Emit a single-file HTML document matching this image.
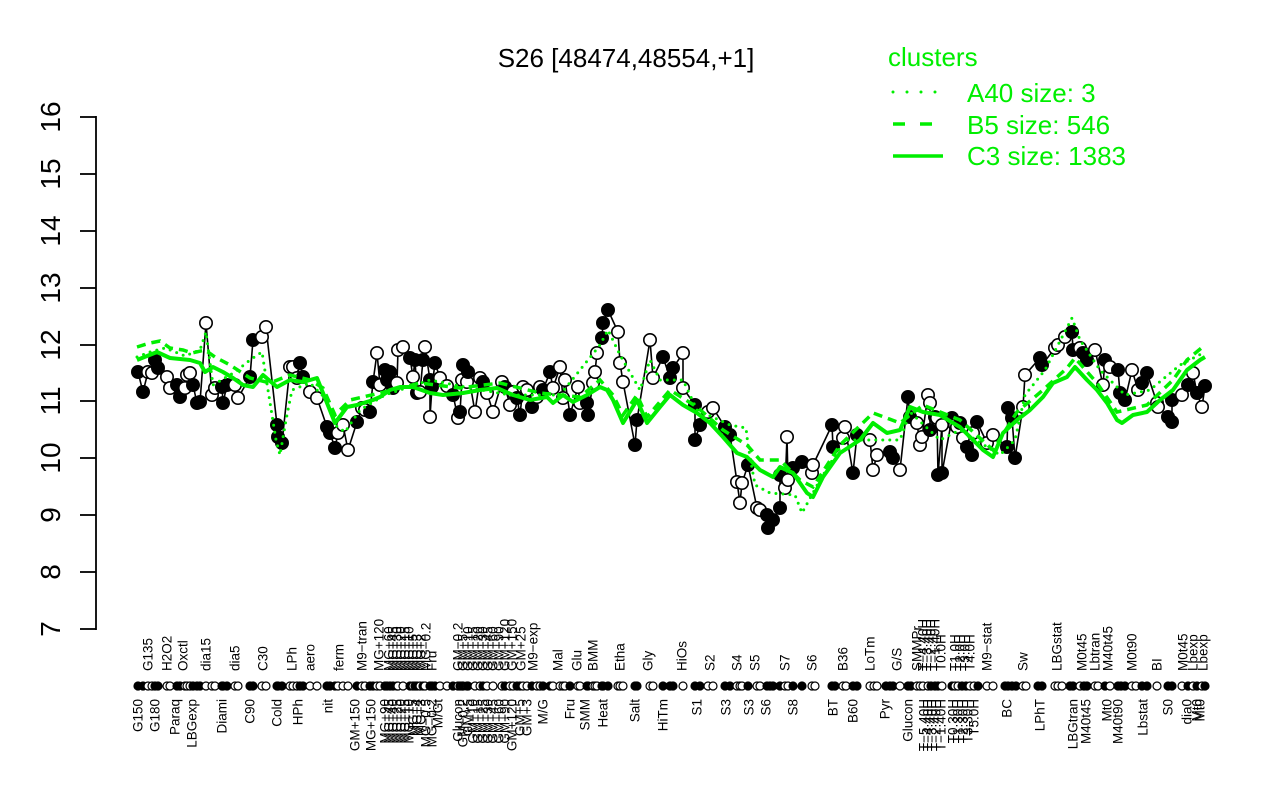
<!DOCTYPE html>
<html><head><meta charset="utf-8"><style>
html,body{margin:0;padding:0;background:#fff;}
svg{display:block;}
text{font-family:"Liberation Sans",Arial,sans-serif;}
.ax{font-size:13.5px;fill:#000;}
</style></head><body>
<svg width="1280" height="800" viewBox="0 0 1280 800" xmlns="http://www.w3.org/2000/svg">
<rect width="1280" height="800" fill="#fff"/>
<!-- title -->
<text x="626" y="67" font-size="26" text-anchor="middle" fill="#000">S26 [48474,48554,+1]</text>
<!-- legend -->
<g fill="#00ee00">
<text x="888" y="66" font-size="26">clusters</text>
<text x="967" y="102" font-size="26">A40 size: 3</text>
<text x="967" y="134" font-size="26">B5 size: 546</text>
<text x="967" y="165" font-size="26">C3 size: 1383</text>
</g>
<line x1="893" y1="92" x2="938" y2="92" stroke="#00ee00" stroke-width="3" stroke-linecap="round" stroke-dasharray="0,14"/>
<line x1="893" y1="124" x2="933" y2="124" stroke="#00ee00" stroke-width="3.5" stroke-dasharray="12,15"/>
<line x1="893" y1="156" x2="943" y2="156" stroke="#00ee00" stroke-width="3.5"/>
<!-- y axis -->
<g stroke="#000" stroke-width="1.8">
<line x1="96" y1="116" x2="96" y2="630"/>
<line x1="80" y1="117" x2="96" y2="117"/>
<line x1="80" y1="174" x2="96" y2="174"/>
<line x1="80" y1="231" x2="96" y2="231"/>
<line x1="80" y1="288" x2="96" y2="288"/>
<line x1="80" y1="345" x2="96" y2="345"/>
<line x1="80" y1="401" x2="96" y2="401"/>
<line x1="80" y1="458" x2="96" y2="458"/>
<line x1="80" y1="515" x2="96" y2="515"/>
<line x1="80" y1="572" x2="96" y2="572"/>
<line x1="80" y1="629" x2="96" y2="629"/>
</g>
<g font-size="28" text-anchor="middle" fill="#000">
<text transform="translate(60,117) rotate(-90)">16</text>
<text transform="translate(60,174) rotate(-90)">15</text>
<text transform="translate(60,231) rotate(-90)">14</text>
<text transform="translate(60,288) rotate(-90)">13</text>
<text transform="translate(60,345) rotate(-90)">12</text>
<text transform="translate(60,401) rotate(-90)">11</text>
<text transform="translate(60,458) rotate(-90)">10</text>
<text transform="translate(60,515) rotate(-90)">9</text>
<text transform="translate(60,572) rotate(-90)">8</text>
<text transform="translate(60,629) rotate(-90)">7</text>
</g>

<!-- black data line -->
<polyline fill="none" stroke="#000" stroke-width="1.6" points="138,372 143,392 148,372 152,373 155,360 158,368 167,377 170,388 177,385 180,397 185,388 187,375 190,373 193,385 197,403 200,402 206,323 212,395 215,388 222,387 223,403 227,385 235,385 238,398 250,377 253,340 262,337 266,327 277,425 278,437 282,443 290,367 293,367 297,378 300,363 303,377 310,392 317,398 327,427 330,433 335,448 338,433 343,425 348,450 357,422 362,408 365,410 370,412 373,382 377,353 380,385 385,370 387,380 390,372 393,388 397,383 398,350 403,347 410,358 413,377 415,360 417,393 420,392 423,360 425,347 430,380 430,417 432,387 435,363 440,378 447,386 453,395 458,418 460,412 462,380 463,365 467,382 468,372 475,412 480,378 483,382 487,393 493,412 502,382 505,387 510,405 513,392 517,398 520,415 523,387 527,390 532,407 537,397 540,387 543,390 550,372 553,388 560,367 563,398 565,380 570,415 578,387 580,403 587,403 588,415 593,383 595,372 597,353 602,338 603,323 608,310 618,332 620,363 623,382 635,445 637,420 650,340 653,378 663,357 670,378 673,368 683,353 683,388 695,405 695,440 700,425 708,412 713,408 725,427 730,435 737,482 740,503 742,483 748,465 757,508 760,510 767,515 768,528 773,520 780,508 780,475 785,488 787,437 788,480 793,468 802,462 812,473 813,465 832,425 833,447 843,438 845,427 853,473 857,435 870,440 873,470 877,455 890,452 893,458 900,470 908,397 910,417 917,423 920,445 922,437 928,395 930,403 930,430 935,417 937,418 938,475 942,425 942,473 952,418 955,425 957,427 960,423 963,438 967,447 972,455 973,433 977,422 987,443 993,435 1007,447 1008,408 1012,418 1015,458 1023,407 1025,375 1040,358 1042,365 1055,348 1058,345 1065,337 1072,332 1073,350 1080,348 1083,353 1087,360 1095,350 1103,385 1105,360 1110,367 1118,370 1120,393 1125,400 1132,370 1138,390 1142,383 1147,373 1157,403 1158,407 1168,417 1172,422 1172,400 1182,395 1188,385 1193,373 1197,393 1202,407 1205,386"/>

<!-- data points -->
<g stroke="#000" stroke-width="1.6">
<circle cx="138" cy="372" r="6.2" fill="#000"/><circle cx="143" cy="392" r="6.2" fill="#000"/><circle cx="148" cy="372" r="6.2" fill="#fff"/><circle cx="152" cy="373" r="6.2" fill="#fff"/><circle cx="155" cy="360" r="6.2" fill="#000"/><circle cx="158" cy="368" r="6.2" fill="#000"/><circle cx="167" cy="377" r="6.2" fill="#fff"/><circle cx="170" cy="388" r="6.2" fill="#fff"/><circle cx="177" cy="385" r="6.2" fill="#000"/><circle cx="180" cy="397" r="6.2" fill="#000"/><circle cx="185" cy="388" r="6.2" fill="#fff"/><circle cx="187" cy="375" r="6.2" fill="#fff"/><circle cx="190" cy="373" r="6.2" fill="#fff"/><circle cx="193" cy="385" r="6.2" fill="#000"/><circle cx="197" cy="403" r="6.2" fill="#000"/><circle cx="200" cy="402" r="6.2" fill="#000"/><circle cx="206" cy="323" r="6.2" fill="#fff"/><circle cx="212" cy="395" r="6.2" fill="#fff"/><circle cx="215" cy="388" r="6.2" fill="#fff"/><circle cx="222" cy="387" r="6.2" fill="#000"/><circle cx="223" cy="403" r="6.2" fill="#000"/><circle cx="227" cy="385" r="6.2" fill="#000"/><circle cx="235" cy="385" r="6.2" fill="#fff"/><circle cx="238" cy="398" r="6.2" fill="#fff"/><circle cx="250" cy="377" r="6.2" fill="#000"/><circle cx="253" cy="340" r="6.2" fill="#000"/><circle cx="262" cy="337" r="6.2" fill="#fff"/><circle cx="266" cy="327" r="6.2" fill="#fff"/><circle cx="277" cy="425" r="6.2" fill="#000"/><circle cx="278" cy="437" r="6.2" fill="#000"/><circle cx="282" cy="443" r="6.2" fill="#000"/><circle cx="290" cy="367" r="6.2" fill="#fff"/><circle cx="293" cy="367" r="6.2" fill="#fff"/><circle cx="297" cy="378" r="6.2" fill="#fff"/><circle cx="300" cy="363" r="6.2" fill="#000"/><circle cx="303" cy="377" r="6.2" fill="#000"/><circle cx="310" cy="392" r="6.2" fill="#fff"/><circle cx="317" cy="398" r="6.2" fill="#fff"/><circle cx="327" cy="427" r="6.2" fill="#000"/><circle cx="330" cy="433" r="6.2" fill="#000"/><circle cx="335" cy="448" r="6.2" fill="#000"/><circle cx="338" cy="433" r="6.2" fill="#fff"/><circle cx="343" cy="425" r="6.2" fill="#fff"/><circle cx="348" cy="450" r="6.2" fill="#fff"/><circle cx="357" cy="422" r="6.2" fill="#000"/><circle cx="362" cy="408" r="6.2" fill="#fff"/><circle cx="365" cy="410" r="6.2" fill="#fff"/><circle cx="370" cy="412" r="6.2" fill="#000"/><circle cx="373" cy="382" r="6.2" fill="#000"/><circle cx="377" cy="353" r="6.2" fill="#fff"/><circle cx="380" cy="385" r="6.2" fill="#fff"/><circle cx="385" cy="370" r="6.2" fill="#000"/><circle cx="387" cy="380" r="6.2" fill="#000"/><circle cx="390" cy="372" r="6.2" fill="#000"/><circle cx="393" cy="388" r="6.2" fill="#000"/><circle cx="397" cy="383" r="6.2" fill="#fff"/><circle cx="398" cy="350" r="6.2" fill="#fff"/><circle cx="403" cy="347" r="6.2" fill="#fff"/><circle cx="410" cy="358" r="6.2" fill="#000"/><circle cx="413" cy="377" r="6.2" fill="#fff"/><circle cx="415" cy="360" r="6.2" fill="#000"/><circle cx="417" cy="393" r="6.2" fill="#000"/><circle cx="420" cy="392" r="6.2" fill="#fff"/><circle cx="423" cy="360" r="6.2" fill="#000"/><circle cx="425" cy="347" r="6.2" fill="#fff"/><circle cx="430" cy="380" r="6.2" fill="#000"/><circle cx="430" cy="417" r="6.2" fill="#fff"/><circle cx="432" cy="387" r="6.2" fill="#000"/><circle cx="435" cy="363" r="6.2" fill="#000"/><circle cx="440" cy="378" r="6.2" fill="#fff"/><circle cx="447" cy="386" r="6.2" fill="#fff"/><circle cx="453" cy="395" r="6.2" fill="#000"/><circle cx="458" cy="418" r="6.2" fill="#fff"/><circle cx="460" cy="412" r="6.2" fill="#000"/><circle cx="462" cy="380" r="6.2" fill="#fff"/><circle cx="463" cy="365" r="6.2" fill="#000"/><circle cx="467" cy="382" r="6.2" fill="#fff"/><circle cx="468" cy="372" r="6.2" fill="#000"/><circle cx="475" cy="412" r="6.2" fill="#fff"/><circle cx="480" cy="378" r="6.2" fill="#fff"/><circle cx="483" cy="382" r="6.2" fill="#000"/><circle cx="487" cy="393" r="6.2" fill="#fff"/><circle cx="493" cy="412" r="6.2" fill="#fff"/><circle cx="502" cy="382" r="6.2" fill="#fff"/><circle cx="505" cy="387" r="6.2" fill="#000"/><circle cx="510" cy="405" r="6.2" fill="#fff"/><circle cx="513" cy="392" r="6.2" fill="#fff"/><circle cx="517" cy="398" r="6.2" fill="#000"/><circle cx="520" cy="415" r="6.2" fill="#000"/><circle cx="523" cy="387" r="6.2" fill="#fff"/><circle cx="527" cy="390" r="6.2" fill="#fff"/><circle cx="532" cy="407" r="6.2" fill="#000"/><circle cx="537" cy="397" r="6.2" fill="#fff"/><circle cx="540" cy="387" r="6.2" fill="#fff"/><circle cx="543" cy="390" r="6.2" fill="#000"/><circle cx="550" cy="372" r="6.2" fill="#000"/><circle cx="553" cy="388" r="6.2" fill="#fff"/><circle cx="560" cy="367" r="6.2" fill="#fff"/><circle cx="563" cy="398" r="6.2" fill="#fff"/><circle cx="565" cy="380" r="6.2" fill="#fff"/><circle cx="570" cy="415" r="6.2" fill="#000"/><circle cx="578" cy="387" r="6.2" fill="#fff"/><circle cx="580" cy="403" r="6.2" fill="#fff"/><circle cx="587" cy="403" r="6.2" fill="#000"/><circle cx="588" cy="415" r="6.2" fill="#000"/><circle cx="593" cy="383" r="6.2" fill="#fff"/><circle cx="595" cy="372" r="6.2" fill="#fff"/><circle cx="597" cy="353" r="6.2" fill="#fff"/><circle cx="602" cy="338" r="6.2" fill="#000"/><circle cx="603" cy="323" r="6.2" fill="#000"/><circle cx="608" cy="310" r="6.2" fill="#000"/><circle cx="618" cy="332" r="6.2" fill="#fff"/><circle cx="620" cy="363" r="6.2" fill="#fff"/><circle cx="623" cy="382" r="6.2" fill="#fff"/><circle cx="635" cy="445" r="6.2" fill="#000"/><circle cx="637" cy="420" r="6.2" fill="#000"/><circle cx="650" cy="340" r="6.2" fill="#fff"/><circle cx="653" cy="378" r="6.2" fill="#fff"/><circle cx="663" cy="357" r="6.2" fill="#000"/><circle cx="670" cy="378" r="6.2" fill="#000"/><circle cx="673" cy="368" r="6.2" fill="#000"/><circle cx="683" cy="353" r="6.2" fill="#fff"/><circle cx="683" cy="388" r="6.2" fill="#fff"/><circle cx="695" cy="405" r="6.2" fill="#000"/><circle cx="695" cy="440" r="6.2" fill="#000"/><circle cx="700" cy="425" r="6.2" fill="#000"/><circle cx="708" cy="412" r="6.2" fill="#fff"/><circle cx="713" cy="408" r="6.2" fill="#fff"/><circle cx="725" cy="427" r="6.2" fill="#000"/><circle cx="730" cy="435" r="6.2" fill="#000"/><circle cx="737" cy="482" r="6.2" fill="#fff"/><circle cx="740" cy="503" r="6.2" fill="#fff"/><circle cx="742" cy="483" r="6.2" fill="#fff"/><circle cx="748" cy="465" r="6.2" fill="#000"/><circle cx="757" cy="508" r="6.2" fill="#fff"/><circle cx="760" cy="510" r="6.2" fill="#fff"/><circle cx="767" cy="515" r="6.2" fill="#000"/><circle cx="768" cy="528" r="6.2" fill="#000"/><circle cx="773" cy="520" r="6.2" fill="#000"/><circle cx="780" cy="508" r="6.2" fill="#000"/><circle cx="780" cy="475" r="6.2" fill="#000"/><circle cx="785" cy="488" r="6.2" fill="#fff"/><circle cx="787" cy="437" r="6.2" fill="#fff"/><circle cx="788" cy="480" r="6.2" fill="#fff"/><circle cx="793" cy="468" r="6.2" fill="#000"/><circle cx="802" cy="462" r="6.2" fill="#000"/><circle cx="812" cy="473" r="6.2" fill="#fff"/><circle cx="813" cy="465" r="6.2" fill="#fff"/><circle cx="832" cy="425" r="6.2" fill="#000"/><circle cx="833" cy="447" r="6.2" fill="#000"/><circle cx="843" cy="438" r="6.2" fill="#fff"/><circle cx="845" cy="427" r="6.2" fill="#fff"/><circle cx="853" cy="473" r="6.2" fill="#000"/><circle cx="857" cy="435" r="6.2" fill="#000"/><circle cx="870" cy="440" r="6.2" fill="#fff"/><circle cx="873" cy="470" r="6.2" fill="#fff"/><circle cx="877" cy="455" r="6.2" fill="#fff"/><circle cx="890" cy="452" r="6.2" fill="#000"/><circle cx="893" cy="458" r="6.2" fill="#000"/><circle cx="900" cy="470" r="6.2" fill="#fff"/><circle cx="908" cy="397" r="6.2" fill="#000"/><circle cx="910" cy="417" r="6.2" fill="#000"/><circle cx="917" cy="423" r="6.2" fill="#fff"/><circle cx="920" cy="445" r="6.2" fill="#fff"/><circle cx="922" cy="437" r="6.2" fill="#fff"/><circle cx="928" cy="395" r="6.2" fill="#fff"/><circle cx="930" cy="403" r="6.2" fill="#fff"/><circle cx="930" cy="430" r="6.2" fill="#000"/><circle cx="935" cy="417" r="6.2" fill="#000"/><circle cx="937" cy="418" r="6.2" fill="#fff"/><circle cx="938" cy="475" r="6.2" fill="#000"/><circle cx="942" cy="425" r="6.2" fill="#fff"/><circle cx="942" cy="473" r="6.2" fill="#000"/><circle cx="952" cy="418" r="6.2" fill="#000"/><circle cx="955" cy="425" r="6.2" fill="#fff"/><circle cx="957" cy="427" r="6.2" fill="#fff"/><circle cx="960" cy="423" r="6.2" fill="#000"/><circle cx="963" cy="438" r="6.2" fill="#fff"/><circle cx="967" cy="447" r="6.2" fill="#000"/><circle cx="972" cy="455" r="6.2" fill="#000"/><circle cx="973" cy="433" r="6.2" fill="#fff"/><circle cx="977" cy="422" r="6.2" fill="#000"/><circle cx="987" cy="443" r="6.2" fill="#fff"/><circle cx="993" cy="435" r="6.2" fill="#fff"/><circle cx="1007" cy="447" r="6.2" fill="#000"/><circle cx="1008" cy="408" r="6.2" fill="#000"/><circle cx="1012" cy="418" r="6.2" fill="#000"/><circle cx="1015" cy="458" r="6.2" fill="#000"/><circle cx="1023" cy="407" r="6.2" fill="#fff"/><circle cx="1025" cy="375" r="6.2" fill="#fff"/><circle cx="1040" cy="358" r="6.2" fill="#000"/><circle cx="1042" cy="365" r="6.2" fill="#000"/><circle cx="1055" cy="348" r="6.2" fill="#fff"/><circle cx="1058" cy="345" r="6.2" fill="#fff"/><circle cx="1065" cy="337" r="6.2" fill="#fff"/><circle cx="1072" cy="332" r="6.2" fill="#000"/><circle cx="1073" cy="350" r="6.2" fill="#000"/><circle cx="1080" cy="348" r="6.2" fill="#fff"/><circle cx="1083" cy="353" r="6.2" fill="#000"/><circle cx="1087" cy="360" r="6.2" fill="#000"/><circle cx="1095" cy="350" r="6.2" fill="#fff"/><circle cx="1103" cy="385" r="6.2" fill="#fff"/><circle cx="1105" cy="360" r="6.2" fill="#000"/><circle cx="1110" cy="367" r="6.2" fill="#fff"/><circle cx="1118" cy="370" r="6.2" fill="#000"/><circle cx="1120" cy="393" r="6.2" fill="#000"/><circle cx="1125" cy="400" r="6.2" fill="#000"/><circle cx="1132" cy="370" r="6.2" fill="#fff"/><circle cx="1138" cy="390" r="6.2" fill="#fff"/><circle cx="1142" cy="383" r="6.2" fill="#000"/><circle cx="1147" cy="373" r="6.2" fill="#000"/><circle cx="1157" cy="403" r="6.2" fill="#fff"/><circle cx="1158" cy="407" r="6.2" fill="#fff"/><circle cx="1168" cy="417" r="6.2" fill="#000"/><circle cx="1172" cy="422" r="6.2" fill="#000"/><circle cx="1172" cy="400" r="6.2" fill="#000"/><circle cx="1182" cy="395" r="6.2" fill="#fff"/><circle cx="1188" cy="385" r="6.2" fill="#000"/><circle cx="1193" cy="373" r="6.2" fill="#fff"/><circle cx="1197" cy="393" r="6.2" fill="#000"/><circle cx="1202" cy="407" r="6.2" fill="#fff"/><circle cx="1205" cy="386" r="6.2" fill="#000"/>
</g>

<!-- green cluster lines -->
<polyline fill="none" stroke="#00ee00" stroke-width="3" stroke-linecap="round" stroke-dasharray="0,7" points="137,357 150,352 165,348 185,356 200,350 206,332 209,355 213,385 235,372 250,360 262,352 268,390 272,415 276,440 280,455 286,420 292,390 310,383 325,398 335,425 345,432 360,410 385,395 430,380 470,388 510,395 560,395 600,345 608,330 620,355 640,390 650,360 660,380 683,380 697,410 730,425 746,428 748,445 755,485 770,493 795,495 802,513 820,480 845,440 870,440 900,440 910,412 940,440 960,430 1000,455 1015,440 1025,395 1045,370 1072,318 1080,340 1100,370 1125,395 1150,390 1180,365 1205,352"/>
<polyline fill="none" stroke="#00ee00" stroke-width="3.5" stroke-dasharray="9,6" points="137,347 150,343 160,341 170,348 183,350 192,353 205,350 215,357 230,365 250,378 270,383 290,375 310,380 323,388 335,415 350,400 380,393 420,383 460,388 500,383 540,393 580,397 600,380 613,395 623,415 637,395 647,417 670,390 697,407 723,430 747,445 760,460 780,460 800,480 813,487 840,445 873,413 900,423 923,405 960,420 993,450 1017,412 1043,390 1067,368 1075,358 1097,383 1117,412 1147,405 1173,380 1187,360 1205,345"/>
<polyline fill="none" stroke="#00ee00" stroke-width="4" stroke-linejoin="round" points="137,360 157,352 170,358 190,360 200,363 205,372 213,367 223,372 233,378 243,385 253,387 263,375 277,387 290,380 303,382 317,378 323,393 335,423 347,407 357,405 373,400 380,397 390,390 400,387 413,387 430,393 443,395 463,393 480,390 497,388 513,395 530,400 547,397 553,403 563,395 573,402 587,395 600,387 607,390 613,400 623,423 637,400 647,423 660,407 670,395 683,405 697,413 710,423 723,437 737,453 747,457 760,470 773,477 780,467 793,473 807,493 813,497 823,477 840,453 860,440 873,423 887,433 900,430 910,407 923,412 940,415 953,423 960,427 973,440 983,450 993,457 1003,433 1017,420 1030,410 1043,397 1053,383 1067,377 1075,367 1087,380 1097,390 1107,403 1117,420 1122,423 1133,415 1147,412 1160,400 1173,390 1187,370 1200,360 1205,357"/>

<!-- axis marker row -->
<g stroke="#000" stroke-width="1.2">
<circle cx="138" cy="686" r="4" fill="#000"/><circle cx="143" cy="686" r="4" fill="#000"/><circle cx="148" cy="686" r="4" fill="#fff"/><circle cx="152" cy="686" r="4" fill="#fff"/><circle cx="155" cy="686" r="4" fill="#000"/><circle cx="158" cy="686" r="4" fill="#000"/><circle cx="167" cy="686" r="4" fill="#fff"/><circle cx="170" cy="686" r="4" fill="#fff"/><circle cx="177" cy="686" r="4" fill="#000"/><circle cx="180" cy="686" r="4" fill="#000"/><circle cx="185" cy="686" r="4" fill="#fff"/><circle cx="187" cy="686" r="4" fill="#fff"/><circle cx="190" cy="686" r="4" fill="#fff"/><circle cx="193" cy="686" r="4" fill="#000"/><circle cx="197" cy="686" r="4" fill="#000"/><circle cx="200" cy="686" r="4" fill="#000"/><circle cx="206" cy="686" r="4" fill="#fff"/><circle cx="212" cy="686" r="4" fill="#fff"/><circle cx="215" cy="686" r="4" fill="#fff"/><circle cx="222" cy="686" r="4" fill="#000"/><circle cx="223" cy="686" r="4" fill="#000"/><circle cx="227" cy="686" r="4" fill="#000"/><circle cx="235" cy="686" r="4" fill="#fff"/><circle cx="238" cy="686" r="4" fill="#fff"/><circle cx="250" cy="686" r="4" fill="#000"/><circle cx="253" cy="686" r="4" fill="#000"/><circle cx="262" cy="686" r="4" fill="#fff"/><circle cx="266" cy="686" r="4" fill="#fff"/><circle cx="277" cy="686" r="4" fill="#000"/><circle cx="278" cy="686" r="4" fill="#000"/><circle cx="282" cy="686" r="4" fill="#000"/><circle cx="290" cy="686" r="4" fill="#fff"/><circle cx="293" cy="686" r="4" fill="#fff"/><circle cx="297" cy="686" r="4" fill="#fff"/><circle cx="300" cy="686" r="4" fill="#000"/><circle cx="303" cy="686" r="4" fill="#000"/><circle cx="310" cy="686" r="4" fill="#fff"/><circle cx="317" cy="686" r="4" fill="#fff"/><circle cx="327" cy="686" r="4" fill="#000"/><circle cx="330" cy="686" r="4" fill="#000"/><circle cx="335" cy="686" r="4" fill="#000"/><circle cx="338" cy="686" r="4" fill="#fff"/><circle cx="343" cy="686" r="4" fill="#fff"/><circle cx="348" cy="686" r="4" fill="#fff"/><circle cx="357" cy="686" r="4" fill="#000"/><circle cx="362" cy="686" r="4" fill="#fff"/><circle cx="365" cy="686" r="4" fill="#fff"/><circle cx="370" cy="686" r="4" fill="#000"/><circle cx="373" cy="686" r="4" fill="#000"/><circle cx="377" cy="686" r="4" fill="#fff"/><circle cx="380" cy="686" r="4" fill="#fff"/><circle cx="385" cy="686" r="4" fill="#000"/><circle cx="387" cy="686" r="4" fill="#000"/><circle cx="390" cy="686" r="4" fill="#000"/><circle cx="393" cy="686" r="4" fill="#000"/><circle cx="397" cy="686" r="4" fill="#fff"/><circle cx="398" cy="686" r="4" fill="#fff"/><circle cx="403" cy="686" r="4" fill="#fff"/><circle cx="410" cy="686" r="4" fill="#000"/><circle cx="413" cy="686" r="4" fill="#fff"/><circle cx="415" cy="686" r="4" fill="#000"/><circle cx="417" cy="686" r="4" fill="#000"/><circle cx="420" cy="686" r="4" fill="#fff"/><circle cx="423" cy="686" r="4" fill="#000"/><circle cx="425" cy="686" r="4" fill="#fff"/><circle cx="430" cy="686" r="4" fill="#000"/><circle cx="432" cy="686" r="4" fill="#000"/><circle cx="435" cy="686" r="4" fill="#000"/><circle cx="440" cy="686" r="4" fill="#fff"/><circle cx="447" cy="686" r="4" fill="#fff"/><circle cx="453" cy="686" r="4" fill="#000"/><circle cx="458" cy="686" r="4" fill="#fff"/><circle cx="460" cy="686" r="4" fill="#000"/><circle cx="462" cy="686" r="4" fill="#fff"/><circle cx="463" cy="686" r="4" fill="#000"/><circle cx="467" cy="686" r="4" fill="#fff"/><circle cx="468" cy="686" r="4" fill="#000"/><circle cx="475" cy="686" r="4" fill="#fff"/><circle cx="480" cy="686" r="4" fill="#fff"/><circle cx="483" cy="686" r="4" fill="#000"/><circle cx="487" cy="686" r="4" fill="#fff"/><circle cx="493" cy="686" r="4" fill="#fff"/><circle cx="502" cy="686" r="4" fill="#fff"/><circle cx="505" cy="686" r="4" fill="#000"/><circle cx="510" cy="686" r="4" fill="#fff"/><circle cx="513" cy="686" r="4" fill="#fff"/><circle cx="517" cy="686" r="4" fill="#000"/><circle cx="520" cy="686" r="4" fill="#000"/><circle cx="523" cy="686" r="4" fill="#fff"/><circle cx="527" cy="686" r="4" fill="#fff"/><circle cx="532" cy="686" r="4" fill="#000"/><circle cx="537" cy="686" r="4" fill="#fff"/><circle cx="540" cy="686" r="4" fill="#fff"/><circle cx="543" cy="686" r="4" fill="#000"/><circle cx="550" cy="686" r="4" fill="#000"/><circle cx="553" cy="686" r="4" fill="#fff"/><circle cx="560" cy="686" r="4" fill="#fff"/><circle cx="563" cy="686" r="4" fill="#fff"/><circle cx="565" cy="686" r="4" fill="#fff"/><circle cx="570" cy="686" r="4" fill="#000"/><circle cx="578" cy="686" r="4" fill="#fff"/><circle cx="580" cy="686" r="4" fill="#fff"/><circle cx="587" cy="686" r="4" fill="#000"/><circle cx="588" cy="686" r="4" fill="#000"/><circle cx="593" cy="686" r="4" fill="#fff"/><circle cx="595" cy="686" r="4" fill="#fff"/><circle cx="597" cy="686" r="4" fill="#fff"/><circle cx="602" cy="686" r="4" fill="#000"/><circle cx="603" cy="686" r="4" fill="#000"/><circle cx="608" cy="686" r="4" fill="#000"/><circle cx="618" cy="686" r="4" fill="#fff"/><circle cx="620" cy="686" r="4" fill="#fff"/><circle cx="623" cy="686" r="4" fill="#fff"/><circle cx="635" cy="686" r="4" fill="#000"/><circle cx="637" cy="686" r="4" fill="#000"/><circle cx="650" cy="686" r="4" fill="#fff"/><circle cx="653" cy="686" r="4" fill="#fff"/><circle cx="663" cy="686" r="4" fill="#000"/><circle cx="670" cy="686" r="4" fill="#000"/><circle cx="673" cy="686" r="4" fill="#000"/><circle cx="683" cy="686" r="4" fill="#fff"/><circle cx="695" cy="686" r="4" fill="#000"/><circle cx="700" cy="686" r="4" fill="#000"/><circle cx="708" cy="686" r="4" fill="#fff"/><circle cx="713" cy="686" r="4" fill="#fff"/><circle cx="725" cy="686" r="4" fill="#000"/><circle cx="730" cy="686" r="4" fill="#000"/><circle cx="737" cy="686" r="4" fill="#fff"/><circle cx="740" cy="686" r="4" fill="#fff"/><circle cx="742" cy="686" r="4" fill="#fff"/><circle cx="748" cy="686" r="4" fill="#000"/><circle cx="757" cy="686" r="4" fill="#fff"/><circle cx="760" cy="686" r="4" fill="#fff"/><circle cx="767" cy="686" r="4" fill="#000"/><circle cx="770" cy="686" r="4" fill="#000"/><circle cx="773" cy="686" r="4" fill="#000"/><circle cx="780" cy="686" r="4" fill="#000"/><circle cx="785" cy="686" r="4" fill="#fff"/><circle cx="788" cy="686" r="4" fill="#fff"/><circle cx="793" cy="686" r="4" fill="#000"/><circle cx="802" cy="686" r="4" fill="#000"/><circle cx="812" cy="686" r="4" fill="#fff"/><circle cx="815" cy="686" r="4" fill="#fff"/><circle cx="832" cy="686" r="4" fill="#000"/><circle cx="835" cy="686" r="4" fill="#000"/><circle cx="843" cy="686" r="4" fill="#fff"/><circle cx="846" cy="686" r="4" fill="#fff"/><circle cx="853" cy="686" r="4" fill="#000"/><circle cx="857" cy="686" r="4" fill="#000"/><circle cx="870" cy="686" r="4" fill="#fff"/><circle cx="874" cy="686" r="4" fill="#fff"/><circle cx="877" cy="686" r="4" fill="#fff"/><circle cx="886" cy="686" r="4" fill="#000"/><circle cx="890" cy="686" r="4" fill="#000"/><circle cx="893" cy="686" r="4" fill="#000"/><circle cx="900" cy="686" r="4" fill="#fff"/><circle cx="908" cy="686" r="4" fill="#000"/><circle cx="911" cy="686" r="4" fill="#000"/><circle cx="917" cy="686" r="4" fill="#fff"/><circle cx="920" cy="686" r="4" fill="#fff"/><circle cx="923" cy="686" r="4" fill="#fff"/><circle cx="928" cy="686" r="4" fill="#fff"/><circle cx="931" cy="686" r="4" fill="#000"/><circle cx="935" cy="686" r="4" fill="#000"/><circle cx="938" cy="686" r="4" fill="#000"/><circle cx="942" cy="686" r="4" fill="#fff"/><circle cx="952" cy="686" r="4" fill="#000"/><circle cx="955" cy="686" r="4" fill="#fff"/><circle cx="958" cy="686" r="4" fill="#fff"/><circle cx="962" cy="686" r="4" fill="#000"/><circle cx="966" cy="686" r="4" fill="#000"/><circle cx="970" cy="686" r="4" fill="#fff"/><circle cx="974" cy="686" r="4" fill="#fff"/><circle cx="978" cy="686" r="4" fill="#000"/><circle cx="987" cy="686" r="4" fill="#fff"/><circle cx="993" cy="686" r="4" fill="#fff"/><circle cx="1005" cy="686" r="4" fill="#000"/><circle cx="1008" cy="686" r="4" fill="#000"/><circle cx="1012" cy="686" r="4" fill="#000"/><circle cx="1016" cy="686" r="4" fill="#000"/><circle cx="1023" cy="686" r="4" fill="#fff"/><circle cx="1026" cy="686" r="4" fill="#fff"/><circle cx="1038" cy="686" r="4" fill="#000"/><circle cx="1042" cy="686" r="4" fill="#000"/><circle cx="1055" cy="686" r="4" fill="#fff"/><circle cx="1058" cy="686" r="4" fill="#fff"/><circle cx="1062" cy="686" r="4" fill="#fff"/><circle cx="1070" cy="686" r="4" fill="#000"/><circle cx="1073" cy="686" r="4" fill="#000"/><circle cx="1080" cy="686" r="4" fill="#fff"/><circle cx="1084" cy="686" r="4" fill="#000"/><circle cx="1087" cy="686" r="4" fill="#000"/><circle cx="1095" cy="686" r="4" fill="#fff"/><circle cx="1098" cy="686" r="4" fill="#fff"/><circle cx="1105" cy="686" r="4" fill="#000"/><circle cx="1110" cy="686" r="4" fill="#fff"/><circle cx="1118" cy="686" r="4" fill="#000"/><circle cx="1121" cy="686" r="4" fill="#000"/><circle cx="1125" cy="686" r="4" fill="#000"/><circle cx="1132" cy="686" r="4" fill="#fff"/><circle cx="1136" cy="686" r="4" fill="#fff"/><circle cx="1142" cy="686" r="4" fill="#000"/><circle cx="1147" cy="686" r="4" fill="#000"/><circle cx="1157" cy="686" r="4" fill="#fff"/><circle cx="1168" cy="686" r="4" fill="#000"/><circle cx="1172" cy="686" r="4" fill="#000"/><circle cx="1182" cy="686" r="4" fill="#fff"/><circle cx="1188" cy="686" r="4" fill="#000"/><circle cx="1193" cy="686" r="4" fill="#fff"/><circle cx="1197" cy="686" r="4" fill="#000"/><circle cx="1202" cy="686" r="4" fill="#fff"/><circle cx="1205" cy="686" r="4" fill="#000"/>
</g>

<!-- top row labels -->
<g class="ax" text-anchor="start">
<text transform="translate(152.5,671) rotate(-90)">G135</text>
<text transform="translate(171.5,671) rotate(-90)">H2O2</text>
<text transform="translate(187.5,671) rotate(-90)">Oxctl</text>
<text transform="translate(210.5,671) rotate(-90)">dia15</text>
<text transform="translate(239.5,671) rotate(-90)">dia5</text>
<text transform="translate(267.5,671) rotate(-90)">C30</text>
<text transform="translate(296.5,671) rotate(-90)">LPh</text>
<text transform="translate(314.5,671) rotate(-90)">aero</text>
<text transform="translate(343.5,671) rotate(-90)">ferm</text>
<text transform="translate(366.5,671) rotate(-90)">M9−tran</text>
<text transform="translate(383.5,671) rotate(-90)">MG+120</text>
<text transform="translate(393.5,671) rotate(-90)">MG+60</text>
<text transform="translate(397.5,671) rotate(-90)">MG+45</text>
<text transform="translate(401.5,671) rotate(-90)">MG+30</text>
<text transform="translate(405.5,671) rotate(-90)">MG+20</text>
<text transform="translate(409.5,671) rotate(-90)">MG+15</text>
<text transform="translate(413.5,671) rotate(-90)">MG+10</text>
<text transform="translate(417.5,671) rotate(-90)">MG+5</text>
<text transform="translate(421.5,671) rotate(-90)">MG+3</text>
<text transform="translate(425.5,671) rotate(-90)">MG+2</text>
<text transform="translate(430.5,671) rotate(-90)">MG−0.2</text>
<text transform="translate(436.5,671) rotate(-90)">Fru</text>
<text transform="translate(462.5,671) rotate(-90)">GM−0.2</text>
<text transform="translate(467.5,671) rotate(-90)">GM+5</text>
<text transform="translate(472.5,671) rotate(-90)">GM+10</text>
<text transform="translate(477.5,671) rotate(-90)">GM+15</text>
<text transform="translate(482.5,671) rotate(-90)">GM+20</text>
<text transform="translate(487.5,671) rotate(-90)">GM+30</text>
<text transform="translate(492.5,671) rotate(-90)">GM+45</text>
<text transform="translate(497.5,671) rotate(-90)">GM+60</text>
<text transform="translate(503.5,671) rotate(-90)">GM+90</text>
<text transform="translate(509.5,671) rotate(-90)">GM+120</text>
<text transform="translate(516.5,671) rotate(-90)">GM+150</text>
<text transform="translate(525.5,671) rotate(-90)">GM+25</text>
<text transform="translate(537.5,671) rotate(-90)">M9−exp</text>
<text transform="translate(562.5,671) rotate(-90)">Mal</text>
<text transform="translate(581.5,671) rotate(-90)">Glu</text>
<text transform="translate(597.5,671) rotate(-90)">BMM</text>
<text transform="translate(624.5,671) rotate(-90)">Etha</text>
<text transform="translate(652.5,671) rotate(-90)">Gly</text>
<text transform="translate(686.5,671) rotate(-90)">HiOs</text>
<text transform="translate(714.5,671) rotate(-90)">S2</text>
<text transform="translate(741.5,671) rotate(-90)">S4</text>
<text transform="translate(759.5,671) rotate(-90)">S5</text>
<text transform="translate(789.5,671) rotate(-90)">S7</text>
<text transform="translate(816.5,671) rotate(-90)">S6</text>
<text transform="translate(847.5,671) rotate(-90)">B36</text>
<text transform="translate(874.5,671) rotate(-90)">LoTm</text>
<text transform="translate(901.5,671) rotate(-90)">G/S</text>
<text transform="translate(921.5,671) rotate(-90)">SMMPr</text>
<text transform="translate(927.5,671) rotate(-90)">T−4.40H</text>
<text transform="translate(931.5,671) rotate(-90)">T−3.40H</text>
<text transform="translate(935.5,671) rotate(-90)">T−2.40H</text>
<text transform="translate(939.5,671) rotate(-90)">T−1.40H</text>
<text transform="translate(945.5,671) rotate(-90)">T0.0H</text>
<text transform="translate(959.5,671) rotate(-90)">T1.0H</text>
<text transform="translate(964.5,671) rotate(-90)">T2.0H</text>
<text transform="translate(969.5,671) rotate(-90)">T3.0H</text>
<text transform="translate(974.5,671) rotate(-90)">T4.0H</text>
<text transform="translate(991.5,671) rotate(-90)">M9−stat</text>
<text transform="translate(1027.5,671) rotate(-90)">Sw</text>
<text transform="translate(1061.5,671) rotate(-90)">LBGstat</text>
<text transform="translate(1086.5,671) rotate(-90)">M0t45</text>
<text transform="translate(1099.5,671) rotate(-90)">Lbtran</text>
<text transform="translate(1112.5,671) rotate(-90)">M40t45</text>
<text transform="translate(1136.5,671) rotate(-90)">M0t90</text>
<text transform="translate(1161.5,671) rotate(-90)">BI</text>
<text transform="translate(1187.5,671) rotate(-90)">M0t45</text>
<text transform="translate(1197.5,671) rotate(-90)">Lbexp</text>
<text transform="translate(1207.5,671) rotate(-90)">Lbexp</text>
</g>

<!-- bottom row labels -->
<g class="ax" text-anchor="end">
<text transform="translate(142.5,699) rotate(-90)">G150</text>
<text transform="translate(159.5,699) rotate(-90)">G180</text>
<text transform="translate(179.5,699) rotate(-90)">Paraq</text>
<text transform="translate(196.5,699) rotate(-90)">LBGexp</text>
<text transform="translate(226.5,699) rotate(-90)">Diami</text>
<text transform="translate(254.5,699) rotate(-90)">C90</text>
<text transform="translate(281.5,699) rotate(-90)">Cold</text>
<text transform="translate(302.5,699) rotate(-90)">HPh</text>
<text transform="translate(332.5,699) rotate(-90)">nit</text>
<text transform="translate(359.5,699) rotate(-90)">GM+150</text>
<text transform="translate(375.5,699) rotate(-90)">MG+150</text>
<text transform="translate(389.5,699) rotate(-90)">MG+90</text>
<text transform="translate(393.5,699) rotate(-90)">MG+45</text>
<text transform="translate(397.5,699) rotate(-90)">MG+40</text>
<text transform="translate(401.5,699) rotate(-90)">MG+25</text>
<text transform="translate(405.5,699) rotate(-90)">MG+20</text>
<text transform="translate(409.5,699) rotate(-90)">MG+15</text>
<text transform="translate(413.5,699) rotate(-90)">MG+10</text>
<text transform="translate(417.5,699) rotate(-90)">MG+5</text>
<text transform="translate(421.5,699) rotate(-90)">MG+4</text>
<text transform="translate(425.5,699) rotate(-90)">MG+3</text>
<text transform="translate(430.5,699) rotate(-90)">MG−0.5</text>
<text transform="translate(436.5,699) rotate(-90)">MG−0.2</text>
<text transform="translate(442.5,699) rotate(-90)">M/Gt</text>
<text transform="translate(462.5,699) rotate(-90)">Glucon</text>
<text transform="translate(467.5,699) rotate(-90)">GM−0.2</text>
<text transform="translate(472.5,699) rotate(-90)">GM+5</text>
<text transform="translate(477.5,699) rotate(-90)">GM+10</text>
<text transform="translate(482.5,699) rotate(-90)">GM+15</text>
<text transform="translate(487.5,699) rotate(-90)">GM+25</text>
<text transform="translate(492.5,699) rotate(-90)">GM+30</text>
<text transform="translate(497.5,699) rotate(-90)">GM+45</text>
<text transform="translate(503.5,699) rotate(-90)">GM+60</text>
<text transform="translate(509.5,699) rotate(-90)">GM+90</text>
<text transform="translate(516.5,699) rotate(-90)">GM+120</text>
<text transform="translate(524.5,699) rotate(-90)">GM+5</text>
<text transform="translate(531.5,699) rotate(-90)">GM+3</text>
<text transform="translate(547.5,699) rotate(-90)">M/G</text>
<text transform="translate(574.5,699) rotate(-90)">Fru</text>
<text transform="translate(589.5,699) rotate(-90)">SMM</text>
<text transform="translate(607.5,699) rotate(-90)">Heat</text>
<text transform="translate(639.5,699) rotate(-90)">Salt</text>
<text transform="translate(667.5,699) rotate(-90)">HiTm</text>
<text transform="translate(701.5,699) rotate(-90)">S1</text>
<text transform="translate(730.5,699) rotate(-90)">S3</text>
<text transform="translate(753.5,699) rotate(-90)">S3</text>
<text transform="translate(770.5,699) rotate(-90)">S6</text>
<text transform="translate(797.5,699) rotate(-90)">S8</text>
<text transform="translate(837.5,699) rotate(-90)">BT</text>
<text transform="translate(857.5,699) rotate(-90)">B60</text>
<text transform="translate(889.5,699) rotate(-90)">Pyr</text>
<text transform="translate(912.5,699) rotate(-90)">Glucon</text>
<text transform="translate(928.5,699) rotate(-90)">T−5.40H</text>
<text transform="translate(932.5,699) rotate(-90)">T−4.40H</text>
<text transform="translate(936.5,699) rotate(-90)">T−3.40H</text>
<text transform="translate(940.5,699) rotate(-90)">T−2.40H</text>
<text transform="translate(945.5,699) rotate(-90)">T−1.40H</text>
<text transform="translate(957.5,699) rotate(-90)">T0.30H</text>
<text transform="translate(962.5,699) rotate(-90)">T1.30H</text>
<text transform="translate(967.5,699) rotate(-90)">T2.30H</text>
<text transform="translate(972.5,699) rotate(-90)">T3.30H</text>
<text transform="translate(978.5,699) rotate(-90)">T5.0H</text>
<text transform="translate(1011.5,699) rotate(-90)">BC</text>
<text transform="translate(1044.5,699) rotate(-90)">LPhT</text>
<text transform="translate(1077.5,699) rotate(-90)">LBGtran</text>
<text transform="translate(1090.5,699) rotate(-90)">M40t45</text>
<text transform="translate(1111.5,699) rotate(-90)">Mt0</text>
<text transform="translate(1122.5,699) rotate(-90)">M40t90</text>
<text transform="translate(1147.5,699) rotate(-90)">Lbstat</text>
<text transform="translate(1172.5,699) rotate(-90)">S0</text>
<text transform="translate(1191.5,699) rotate(-90)">dia0</text>
<text transform="translate(1201.5,699) rotate(-90)">Mt0</text>
<text transform="translate(1204.5,699) rotate(-90)">Mt0</text>
</g>
</svg>
</body></html>
